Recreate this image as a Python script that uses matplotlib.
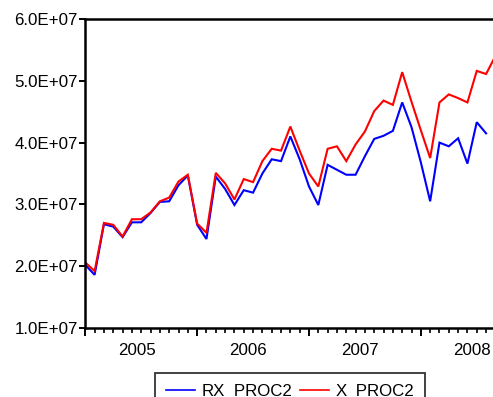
import numpy as np
import matplotlib
matplotlib.use("Agg")
import matplotlib.pyplot as plt
from matplotlib.ticker import FixedLocator, FuncFormatter

plt.rcParams['font.family'] = ['Liberation Sans', 'DejaVu Sans']

# Monthly observations starting January 2005 (values in units of 1e7)
rx_proc2 = [2.02, 1.86, 2.68, 2.64, 2.47, 2.71, 2.71, 2.86, 3.04, 3.05, 3.31, 3.47,
            2.67, 2.44, 3.45, 3.25, 2.99, 3.23, 3.19, 3.50, 3.73, 3.70, 4.10, 3.73,
            3.29, 2.99, 3.64, 3.56, 3.48, 3.48, 3.78, 4.06, 4.11, 4.19, 4.65, 4.25,
            3.68, 3.05, 4.00, 3.94, 4.07, 3.66, 4.33, 4.15]
x_proc2 = [2.06, 1.92, 2.70, 2.67, 2.48, 2.76, 2.76, 2.87, 3.05, 3.11, 3.37, 3.48,
           2.69, 2.54, 3.51, 3.34, 3.08, 3.41, 3.36, 3.70, 3.90, 3.87, 4.26, 3.87,
           3.50, 3.29, 3.90, 3.94, 3.70, 3.97, 4.18, 4.51, 4.68, 4.61, 5.14, 4.66,
           4.20, 3.75, 4.65, 4.78, 4.72, 4.65, 5.16, 5.11, 5.40]
scale = 1e7
years = ["2005", "2006", "2007", "2008"]
y_ticks = [1e7, 2e7, 3e7, 4e7, 5e7, 6e7]
series_names = ["RX_PROC2", "X_PROC2"]

FS = 12.2
W, H = 493, 397
fig = plt.figure(figsize=(W / 100, H / 100), dpi=100)
left, right = 85.3, 495.4
top, bottom = 19, 328
ax = fig.add_axes([left / W, (H - bottom) / H, (right - left) / W, (bottom - top) / H])

rx = np.array(rx_proc2) * scale
xx = np.array(x_proc2) * scale
ax.plot(np.arange(len(rx)), rx, color=(0, 0, 1), lw=1.5, label=series_names[0],
        solid_joinstyle='miter')
ax.plot(np.arange(len(xx)), xx, color=(1, 0, 0), lw=1.5, label=series_names[1],
        solid_joinstyle='miter')

n = len(xx) - 1
ax.set_xlim(0, n)
ax.set_ylim(y_ticks[0], y_ticks[-1])

# y axis
ax.yaxis.set_major_locator(FixedLocator(y_ticks))
ax.yaxis.set_major_formatter(FuncFormatter(lambda v, p: f"{v:.1E}"))
ax.tick_params(axis='y', direction='out', length=4.5, width=1.4, pad=0.8,
               labelsize=FS, colors='black')

# x axis: long ticks at year starts, short ticks every month
ax.xaxis.set_major_locator(FixedLocator(np.arange(0, n + 1, 12)))
ax.xaxis.set_minor_locator(FixedLocator(np.arange(0, n + 1, 1)))
ax.tick_params(axis='x', which='major', direction='out', length=5.5, width=1.4,
               labelbottom=False)
ax.tick_params(axis='x', which='minor', direction='out', length=3.6, width=1.2)

# year labels centred on each year's twelve months
sec = ax.secondary_xaxis('bottom')
sec.set_xticks([5.5 + 12 * i for i in range(len(years))], years)
sec.tick_params(length=0, pad=10.5, labelsize=FS)
sec.spines['bottom'].set_visible(False)

for s in ['left', 'bottom', 'top']:
    ax.spines[s].set_linewidth(1.8)
ax.spines['right'].set_visible(False)

# legend box sits at the lower edge of the figure
leg = fig.legend(loc='upper center', bbox_to_anchor=(290 / W, 1 - 373.3 / H),
                 ncol=2, fontsize=FS, frameon=True, fancybox=False,
                 edgecolor='black', handlelength=1.7, handletextpad=0.4,
                 columnspacing=0.45, borderpad=0.64, borderaxespad=0)
leg.get_frame().set_linewidth(1.3)
for line in leg.get_lines():
    line.set_linewidth(1.2)

fig.savefig("out.png", dpi=100)
